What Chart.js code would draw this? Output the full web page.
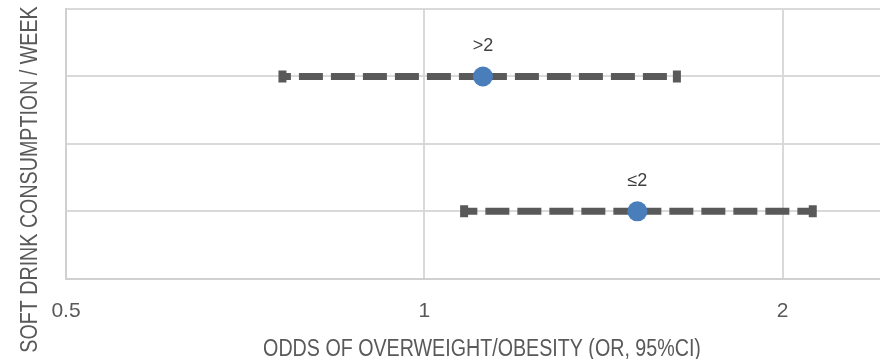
<!DOCTYPE html>
<html>
<head>
<meta charset="utf-8">
<script src="https://cdn.jsdelivr.net/npm/chart.js@4"></script>
<style>
  html, body { margin: 0; padding: 0; background: #ffffff; overflow: hidden; }
  #wrap { position: relative; width: 900px; height: 359px; }
</style>
</head>
<body>
<div id="wrap"><canvas id="chart"></canvas></div>
<script>
// Soft drink consumption groups and their odds ratios with 95% confidence intervals
const groups = ['\u22642', '>2'];
const rowPos = [1, 3];
const oddsRatio = [1.51, 1.12];
const ciLow = [1.08, 0.76];
const ciHigh = [2.12, 1.63];
const xTicks = [0.5, 1, 2];

const xTitleText = 'ODDS OF OVERWEIGHT/OBESITY (OR, 95%CI)';
const yTitleText = 'SOFT DRINK CONSUMPTION / WEEK';

const lineColor = '#595959';
const markerColor = '#4a7ebb';
const titleFont = '23px "Liberation Sans", Arial, sans-serif';
const titleSqueeze = 0.855; // narrow letterforms for the axis titles

// Each interval is drawn as two dashed arms running outward from the estimate,
// with a short vertical cap at the far end.
const armSets = [];
groups.forEach((g, i) => {
  [ciLow[i], ciHigh[i]].forEach(end => {
    armSets.push({
      data: [{ x: oddsRatio[i], y: rowPos[i] }, { x: end, y: rowPos[i] }],
      showLine: true,
      borderColor: lineColor,
      borderWidth: 7,
      borderDash: [24, 8],
      borderCapStyle: 'butt',
      pointRadius: [0, 6],
      pointHoverRadius: [0, 6],
      pointStyle: 'line',
      rotation: 90,
      pointBorderColor: lineColor,
      pointBorderWidth: 8,
      order: 2
    });
  });
});

const estimateSet = {
  data: groups.map((g, i) => ({ x: oddsRatio[i], y: rowPos[i] })),
  showLine: false,
  pointRadius: 10,
  pointHoverRadius: 10,
  pointBackgroundColor: markerColor,
  pointBorderColor: markerColor,
  pointBorderWidth: 0,
  order: 1
};

// Group names written above each estimate marker
const groupLabels = {
  id: 'groupLabels',
  afterDatasetsDraw(chart) {
    const meta = chart.getDatasetMeta(chart.data.datasets.length - 1);
    const ctx = chart.ctx;
    ctx.save();
    ctx.font = '18px "Liberation Sans", Arial, sans-serif';
    ctx.fillStyle = '#404040';
    ctx.textAlign = 'center';
    ctx.textBaseline = 'alphabetic';
    meta.data.forEach((pt, i) => {
      ctx.fillText(groups[i], pt.x, pt.y - 25);
    });
    ctx.restore();
  }
};

// Axis titles in a narrow setting: horizontal one centred under the plot,
// vertical one centred on the full canvas height
const axisTitles = {
  id: 'axisTitles',
  afterDraw(chart) {
    const ctx = chart.ctx;
    const area = chart.chartArea;
    ctx.save();
    ctx.font = titleFont;
    ctx.fillStyle = '#595959';
    ctx.textAlign = 'center';
    ctx.textBaseline = 'alphabetic';

    ctx.save();
    ctx.translate((area.left + area.right) / 2, 356);
    ctx.scale(titleSqueeze, 1);
    ctx.fillText(xTitleText, 0, 0);
    ctx.restore();

    ctx.save();
    ctx.translate(37, chart.height / 2);
    ctx.rotate(-Math.PI / 2);
    ctx.scale(titleSqueeze, 1);
    ctx.fillText(yTitleText, 0, 0);
    ctx.restore();

    ctx.restore();
  }
};

new Chart(document.getElementById('chart'), {
  type: 'scatter',
  data: { datasets: [...armSets, estimateSet] },
  options: {
    responsive: true,
    maintainAspectRatio: false,
    animation: false,
    events: [],
    layout: { autoPadding: false, padding: { top: 9, left: 66, right: 2, bottom: 15 } },
    plugins: {
      legend: { display: false },
      tooltip: { enabled: false }
    },
    scales: {
      x: {
        type: 'logarithmic',
        min: 0.5,
        max: 2.5,
        afterBuildTicks(scale) {
          scale.ticks = xTicks.map(v => ({ value: v }));
        },
        ticks: {
          autoSkip: false,
          maxRotation: 0,
          padding: 20,
          color: '#595959',
          font: { family: '"Liberation Sans", Arial, sans-serif', size: 21 },
          callback: v => String(v)
        },
        grid: { color: '#d9d9d9', lineWidth: 2, drawTicks: false },
        border: { color: '#d0d0d0', width: 2 }
      },
      y: {
        type: 'linear',
        min: 0,
        max: 4,
        ticks: { stepSize: 1, display: false, padding: 0, font: { size: 1 } },
        grid: { color: '#d9d9d9', lineWidth: 2, drawTicks: false },
        border: { color: '#d0d0d0', width: 2 }
      }
    }
  },
  plugins: [groupLabels, axisTitles]
});
</script>
</body>
</html>
